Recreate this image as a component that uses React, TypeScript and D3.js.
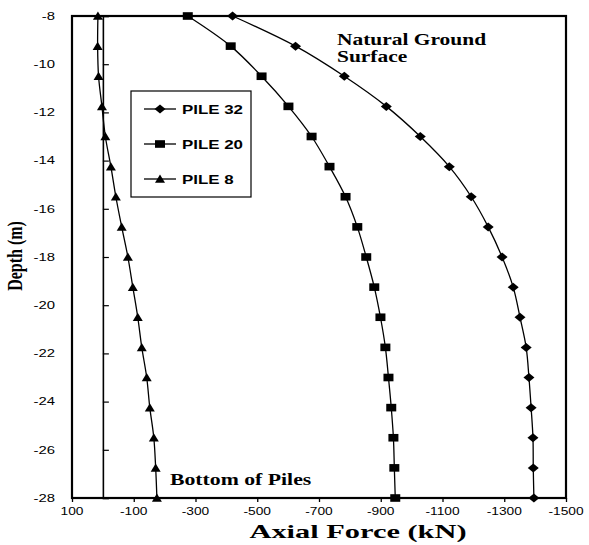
import React, { useEffect, useRef } from 'react';
import * as d3 from 'd3';

const W = 589;
const H = 545;
const frame = { left: 72, right: 566, top: 16, bottom: 498 };

// depth of each gauge (m)
const depths = [-8, -9.25, -10.5, -11.75, -13, -14.25, -15.5, -16.75, -18, -19.25, -20.5, -21.75, -23, -24.25, -25.5, -26.75, -28];
// axial force (kN)
const pile32 = [-420, -624, -782, -918, -1028, -1122, -1193, -1248, -1293, -1329, -1351, -1371, -1380, -1387, -1393, -1394, -1396];
const pile20 = [-275, -414, -514, -601, -676, -734, -786, -824, -853, -879, -899, -915, -925, -934, -941, -944, -947];
const pile8 = [16, 17, 14, 3, -8, -26, -42, -61, -81, -97, -113, -126, -142, -152, -165, -171, -175];

const xTicks = [100, -100, -300, -500, -700, -900, -1100, -1300, -1500];
const yTicks = [-8, -10, -12, -14, -16, -18, -20, -22, -24, -26, -28];

const seriesNames = ['PILE 32', 'PILE 20', 'PILE 8'];
const seriesShapes = ['diamond', 'square', 'triangle'];

const sans = '"Liberation Sans", Arial, sans-serif';
const serif = '"Liberation Serif", "Times New Roman", serif';

const x = d3.scaleLinear().domain([100, -1500]).range([frame.left, frame.right]);
const y = d3.scaleLinear().domain([-28, -8]).range([frame.bottom, frame.top]);

function Marker({ shape, cx, cy }: { shape: string; cx: number; cy: number }) {
  if (shape === 'diamond') {
    return <path d={`M${cx - 5.5},${cy} L${cx},${cy - 4.5} L${cx + 5.5},${cy} L${cx},${cy + 4.5} Z`} fill="#000" />;
  }
  if (shape === 'square') {
    return <rect x={cx - 5} y={cy - 3.8} width={10} height={7.6} fill="#000" />;
  }
  return <path d={`M${cx - 5},${cy + 3.8} L${cx},${cy - 4.5} L${cx + 5},${cy + 3.8} Z`} fill="#000" />;
}

// text in the scan is stretched sideways, so scale it the same way
function WideText({ tx, ty, sx, anchor, size, family, weight, children, baseline }: any) {
  return (
    <text
      transform={`translate(${tx},${ty}) scale(${sx},1)`}
      textAnchor={anchor}
      fontSize={size}
      fontFamily={family}
      fontWeight={weight}
      dominantBaseline={baseline}
      fill="#000"
    >
      {children}
    </text>
  );
}

export default function App() {
  const xAxisRef = useRef<SVGGElement>(null);
  const yAxisRef = useRef<SVGGElement>(null);

  useEffect(() => {
    const xa = d3.axisBottom(x).tickValues(xTicks).tickSize(4).tickFormat(() => '');
    const ya = d3.axisRight(y).tickValues(yTicks).tickSize(6).tickFormat(() => '');
    const gx = d3.select(xAxisRef.current!).call(xa);
    gx.select('.domain').remove();
    gx.selectAll('line').attr('stroke-width', 1.3);
    const gy = d3.select(yAxisRef.current!).call(ya);
    gy.select('.domain').attr('stroke-width', 1.6);
    gy.selectAll('line').attr('stroke-width', 1.2);
  }, []);

  const line = d3
    .line<number>()
    .x((d) => x(d))
    .y((_, i) => y(depths[i]))
    .curve(d3.curveCatmullRom);

  const series = [pile32, pile20, pile8];

  return (
    <svg width={W} height={H} style={{ position: 'absolute', left: 0, top: 0, background: '#fff' }}>
      {/* plot frame */}
      <rect
        x={frame.left}
        y={frame.top}
        width={frame.right - frame.left}
        height={frame.bottom - frame.top}
        fill="none"
        stroke="#000"
        strokeWidth={2.2}
      />
      <g ref={xAxisRef} transform={`translate(0,${frame.bottom})`} />
      <g ref={yAxisRef} transform={`translate(${x(0)},0)`} />

      {yTicks.map((t) => (
        <WideText key={t} tx={55} ty={y(t)} sx={1.35} anchor="end" size={11} family={sans} baseline="central">
          {t}
        </WideText>
      ))}
      {xTicks.map((t) => (
        <WideText key={t} tx={x(t)} ty={515} sx={1.25} anchor="middle" size={11} family={sans}>
          {t}
        </WideText>
      ))}

      {series.map((s, k) => (
        <g key={k}>
          <path d={line(s) || ''} fill="none" stroke="#000" strokeWidth={1.3} />
          {s.map((v, i) => (
            <Marker key={i} shape={seriesShapes[k]} cx={x(v)} cy={y(depths[i])} />
          ))}
        </g>
      ))}

      {/* legend */}
      <rect x={131} y={91} width={120} height={106} fill="#fff" stroke="#000" strokeWidth={1.2} />
      {seriesNames.map((name, k) => {
        const ly = 109 + k * 35;
        return (
          <g key={name}>
            <line x1={144} x2={176} y1={ly} y2={ly} stroke="#000" strokeWidth={1.3} />
            <Marker shape={seriesShapes[k]} cx={160} cy={ly} />
            <WideText tx={182} ty={ly + 4.8} sx={1.3} anchor="start" size={13} family={sans} weight="bold">
              {name}
            </WideText>
          </g>
        );
      })}

      {/* annotations */}
      <WideText tx={337} ty={45} sx={1.3} anchor="start" size={16.5} family={serif} weight="bold">
        Natural Ground
      </WideText>
      <WideText tx={337} ty={62} sx={1.3} anchor="start" size={16.5} family={serif} weight="bold">
        Surface
      </WideText>
      <WideText tx={170} ty={485} sx={1.36} anchor="start" size={16} family={serif} weight="bold">
        Bottom of Piles
      </WideText>

      {/* axis titles */}
      <WideText tx={358} ty={538} sx={1.6} anchor="middle" size={19} family={serif} weight="bold">
        Axial Force (kN)
      </WideText>
      <text
        transform={`translate(22,256) rotate(-90) scale(1,1.35)`}
        textAnchor="middle"
        fontSize={16}
        fontFamily={serif}
        fontWeight="bold"
      >
        Depth (m)
      </text>
    </svg>
  );
}
